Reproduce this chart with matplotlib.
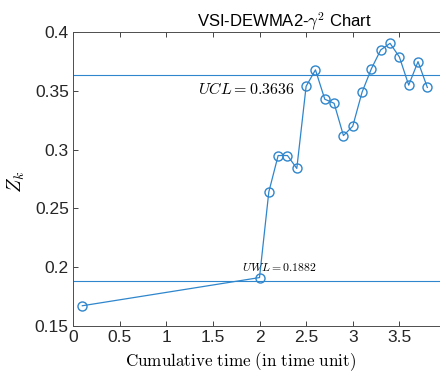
import matplotlib.pyplot as plt

plt.rcParams['mathtext.fontset'] = 'cm'
plt.rcParams['font.family'] = ['Liberation Sans', 'DejaVu Sans']

# cumulative sampling times and chart statistic
t = [0.1, 2.0, 2.1, 2.2, 2.3, 2.4, 2.5, 2.6, 2.7, 2.8, 2.9, 3.0,
     3.1, 3.2, 3.3, 3.4, 3.5, 3.6, 3.7, 3.8]
zk = [0.167, 0.191, 0.264, 0.295, 0.295, 0.284, 0.354, 0.368, 0.343, 0.3395,
      0.312, 0.320, 0.349, 0.369, 0.385, 0.3906, 0.379, 0.355, 0.375, 0.353]
ucl = 0.3636
uwl = 0.1882

blue = '#2f86cc'
grey = '#262626'

fig = plt.figure(figsize=(4.4, 3.74), dpi=100)
ax = fig.add_axes([73 / 440, 48.3 / 374, 373 / 440, 293.4 / 374])

ax.plot(t, zk, '-o', color=blue, lw=0.9, ms=6.5, mfc='none', mew=1.0)
ax.axhline(ucl, color=blue, lw=0.8)
ax.axhline(uwl, color=blue, lw=0.8)

ax.text(2.38, 0.3515, r'$UCL = 0.3636$', ha='right', va='center', fontsize=11.5)
ax.text(2.61, 0.1995, r'$UWL = 0.1882$', ha='right', va='center', fontsize=8.5)

ax.set_xlim(0, 4)
ax.set_ylim(0.15, 0.4)
ax.set_xticks([0, 0.5, 1, 1.5, 2, 2.5, 3, 3.5, 4])
ax.set_xticklabels(['0', '0.5', '1', '1.5', '2', '2.5', '3', '3.5', '4'])
ax.set_yticks([0.15, 0.2, 0.25, 0.3, 0.35, 0.4])
ax.set_yticklabels(['0.15', '0.2', '0.25', '0.3', '0.35', '0.4'])

ax.tick_params(direction='in', top=True, right=True, length=3.5, width=0.6,
               labelsize=12.5, colors=grey, pad=3)
for s in ax.spines.values():
    s.set_color('#4d4d4d')
    s.set_linewidth(0.7)

ax.set_xlabel(r'$\mathrm{Cumulative\ time\ (in\ time\ unit)}$', fontsize=12.3)
ax.xaxis.set_label_coords(0.448, -0.085)
ax.set_ylabel(r'$Z_k$', fontsize=14)
ax.yaxis.set_label_coords(-0.123, 0.49)
ax.set_title(r'VSI-DEWMA2-$\gamma^2$ Chart', x=0.566, fontsize=12, pad=4)

fig.savefig('out.png', dpi=100)
